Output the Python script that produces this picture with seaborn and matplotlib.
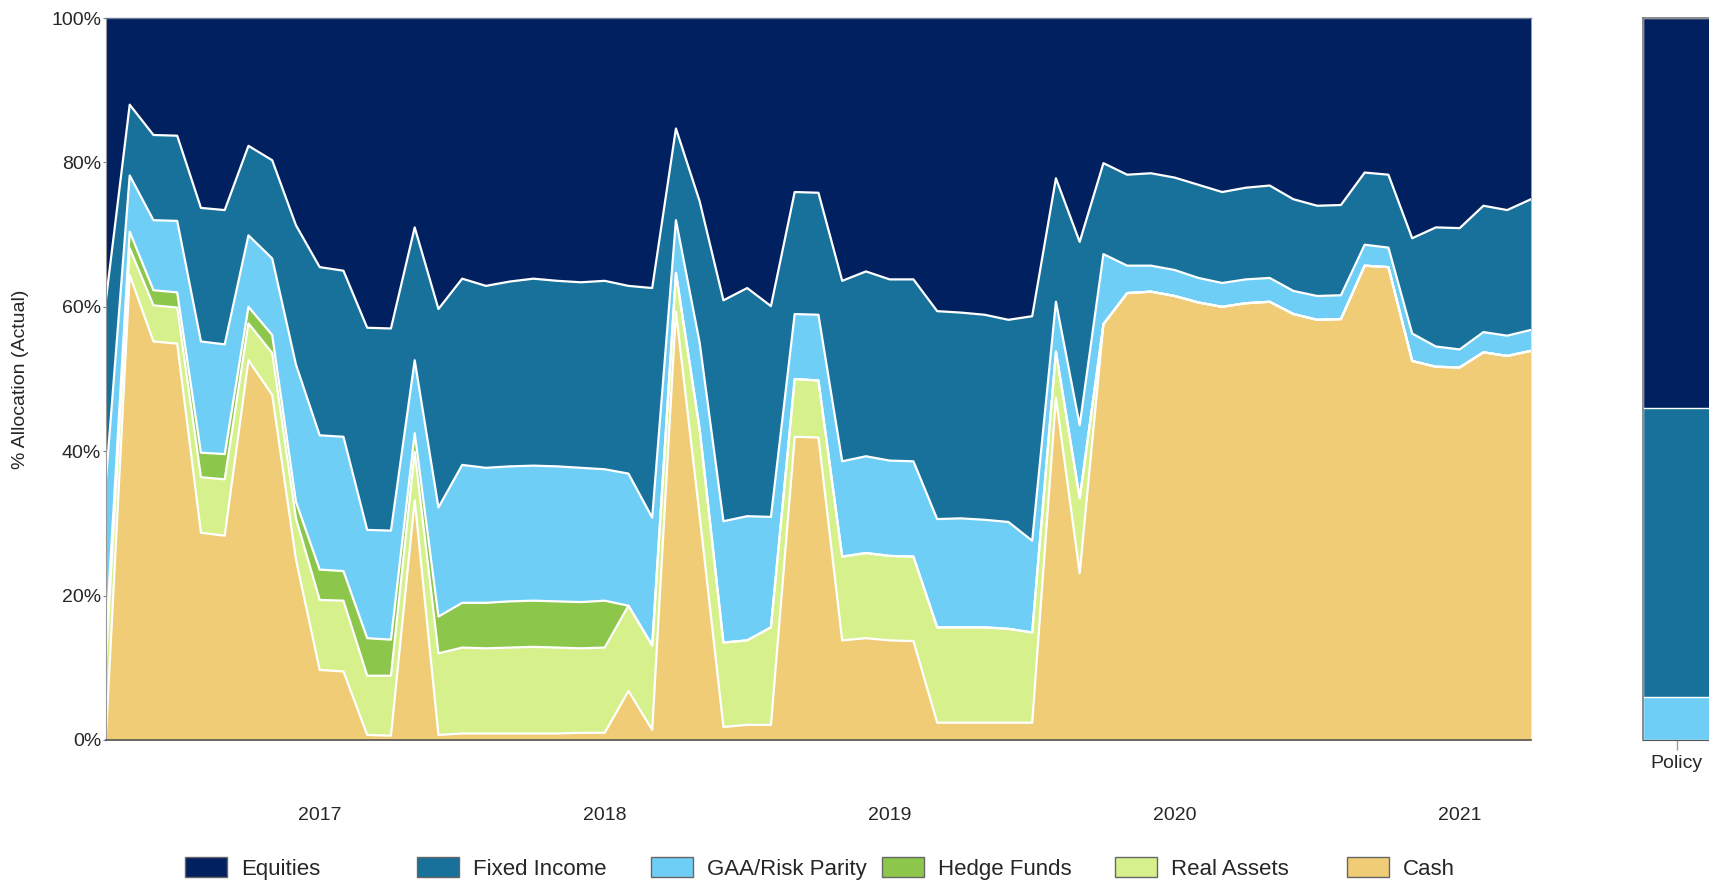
import numpy as np
import pandas as pd
import matplotlib
matplotlib.use("Agg")
from matplotlib import pyplot as plt
from matplotlib.patches import Patch
import seaborn as sns

# Actual allocation (%), month-end Mar-2016 .. Mar-2021
cash = [0.5, 64.4, 55.2, 54.9, 28.7, 28.3, 52.6, 47.8, 25.0, 9.7,
        9.5, 0.7, 0.6, 33.2, 0.7, 0.9, 0.9, 0.9, 0.9, 0.9,
        1.0, 1.0, 6.8, 1.4, 59.3, 31.0, 1.8, 2.1, 2.1, 42.0,
        41.9, 13.8, 14.1, 13.8, 13.7, 2.4, 2.4, 2.4, 2.4, 2.4,
        47.4, 23.1, 57.6, 61.9, 62.1, 61.5, 60.6, 60.0, 60.5, 60.7,
        59.0, 58.2, 58.3, 65.7, 65.5, 52.5, 51.7, 51.6, 53.7, 53.2,
        53.9]
real_assets = [10.5, 3.7, 5.0, 5.0, 7.7, 7.8, 5.1, 5.8, 5.7, 9.7,
               9.8, 8.2, 8.3, 6.7, 11.3, 11.9, 11.8, 11.9, 12.0, 11.9,
               11.7, 11.8, 11.8, 11.7, 5.4, 12.0, 11.7, 11.7, 13.5, 8.0,
               7.9, 11.6, 11.8, 11.7, 11.7, 13.2, 13.2, 13.2, 13.0, 12.5,
               6.4, 10.4, 0, 0, 0, 0, 0, 0, 0, 0,
               0, 0, 0, 0, 0, 0, 0, 0, 0, 0,
               0]
hedge_funds = [3.0, 2.3, 2.1, 2.1, 3.4, 3.5, 2.3, 2.5, 2.3, 4.2,
               4.1, 5.2, 5.0, 2.6, 5.1, 6.2, 6.3, 6.4, 6.4, 6.4,
               6.4, 6.5, 0, 0, 0, 0, 0, 0, 0, 0,
               0, 0, 0, 0, 0, 0, 0, 0, 0, 0,
               0, 0, 0, 0, 0, 0, 0, 0, 0, 0,
               0, 0, 0, 0, 0, 0, 0, 0, 0, 0,
               0]
gaa_risk_parity = [22.0, 7.8, 9.7, 9.9, 15.4, 15.2, 9.9, 10.6, 19.0, 18.6,
                   18.6, 15.0, 15.1, 10.1, 15.1, 19.1, 18.7, 18.7, 18.7, 18.7,
                   18.6, 18.2, 18.3, 17.7, 7.3, 12.0, 16.8, 17.2, 15.3, 9.0,
                   9.1, 13.2, 13.4, 13.2, 13.2, 15.0, 15.1, 14.9, 14.8, 12.7,
                   6.9, 10.1, 9.7, 3.8, 3.6, 3.6, 3.4, 3.3, 3.3, 3.3,
                   3.2, 3.3, 3.3, 2.9, 2.7, 3.8, 2.8, 2.5, 2.8, 2.8,
                   2.9]
fixed_income = [25.0, 9.8, 11.8, 11.8, 18.5, 18.6, 12.4, 13.6, 19.3, 23.3,
                23.0, 28.0, 28.0, 18.4, 27.5, 25.8, 25.2, 25.6, 25.9, 25.7,
                25.7, 26.1, 26.0, 31.8, 12.7, 19.6, 30.6, 31.6, 29.2, 16.9,
                16.9, 25.0, 25.6, 25.1, 25.2, 28.8, 28.5, 28.4, 28.0, 31.1,
                17.1, 25.4, 12.6, 12.6, 12.8, 12.8, 12.9, 12.6, 12.7, 12.8,
                12.7, 12.5, 12.5, 10.0, 10.1, 13.2, 16.5, 16.8, 17.5, 17.4,
                18.1]
equities = [39.0, 12.0, 16.2, 16.3, 26.3, 26.6, 17.7, 19.7, 28.7, 34.5,
            35.0, 42.9, 43.0, 29.0, 40.3, 36.1, 37.1, 36.5, 36.1, 36.4,
            36.6, 36.4, 37.1, 37.4, 15.3, 25.4, 39.1, 37.4, 39.9, 24.1,
            24.2, 36.4, 35.1, 36.2, 36.2, 40.6, 40.8, 41.1, 41.8, 41.3,
            22.2, 31.0, 20.1, 21.7, 21.5, 22.1, 23.1, 24.1, 23.5, 23.2,
            25.1, 26.0, 25.9, 21.4, 21.7, 30.5, 29.0, 29.1, 26.0, 26.6,
            25.1]

fiscal_years = ["2017", "2018", "2019", "2020", "2021"]

policy_classes = ["Equities", "Fixed Income", "GAA/Risk Parity"]
policy_weights = [54, 40, 6]

legend_order = ["Equities", "Fixed Income", "GAA/Risk Parity", "Hedge Funds", "Real Assets", "Cash"]
palette = {
    "Equities": "#012060",
    "Fixed Income": "#17719B",
    "GAA/Risk Parity": "#6ECEF5",
    "Hedge Funds": "#8CC64A",
    "Real Assets": "#D6F08C",
    "Cash": "#F0CC76",
}

sns.set_style("white")
plt.rcParams["font.family"] = ["Liberation Sans", "DejaVu Sans"]

df = pd.DataFrame({
    "Cash": cash,
    "Real Assets": real_assets,
    "Hedge Funds": hedge_funds,
    "GAA/Risk Parity": gaa_risk_parity,
    "Fixed Income": fixed_income,
    "Equities": equities,
})
df["month"] = range(len(df))
stack_order = ["Cash", "Real Assets", "Hedge Funds", "GAA/Risk Parity", "Fixed Income", "Equities"]

fig = plt.figure(figsize=(17.09, 8.84), dpi=100)
ax = fig.add_axes([0.0620, 0.1629, 0.8338, 0.8167])

ax.stackplot(df["month"], [df[c] for c in stack_order],
             colors=[palette[c] for c in stack_order], linewidth=0)
cum = df[stack_order].cumsum(axis=1)
for c in stack_order[:-1]:
    sns.lineplot(x=df["month"], y=cum[c], color="white", linewidth=1.6, ax=ax)

ax.set_xlim(0, len(df) - 1)
ax.set_ylim(0, 100)
ax.set_yticks(range(0, 101, 20))
ax.set_yticklabels([f"{v}%" for v in range(0, 101, 20)], fontsize=14)
ax.set_ylabel("% Allocation (Actual)", fontsize=14)
ax.yaxis.set_label_coords(-0.054, 0.5)
ax.set_xlabel("")

# fiscal year boundaries (long ticks) and quarters (short ticks)
major = [3, 15, 27, 39, 51]
minor = [m for m in range(0, len(df) - 1, 3) if m not in major]
minor_labels = [""] * len(minor)
for k, yr in enumerate(fiscal_years):
    minor_labels[minor.index(9 + 12 * k)] = yr
ax.set_xticks(major)
ax.set_xticklabels([""] * len(major))
ax.set_xticks(minor, minor=True)
ax.set_xticklabels(minor_labels, minor=True, fontsize=14)
ax.tick_params(axis="x", which="major", length=23, width=1.3, color="#444444", direction="out")
ax.tick_params(axis="x", which="minor", length=8.5, width=0.9, color="#777777", direction="out", pad=40)
ax.tick_params(axis="y", length=2, width=0.8, color="#6a7fa0", pad=1.5, left=True)

ax.spines["right"].set_visible(False)
ax.spines["top"].set_color("#6a7a90")
ax.spines["top"].set_linewidth(1.0)
ax.spines["left"].set_color("#999999")
ax.spines["bottom"].set_color("#555555")
ax.spines["bottom"].set_linewidth(1.2)

# policy target bar
pax = fig.add_axes([0.9611, 0.1629, 0.0400, 0.8167])
policy = pd.DataFrame({"cls": policy_classes, "weight": policy_weights})
policy["top"] = policy["weight"][::-1].cumsum()[::-1]
for _, row in policy.iterrows():
    sns.barplot(x=["Policy"], y=[row["top"]], color=palette[row["cls"]], width=1.0,
                edgecolor="white", linewidth=1.0, saturation=1, ax=pax)
pax.set_xlim(-0.5, 0.5)
pax.set_ylim(0, 100)
pax.set_yticks([])
pax.set_ylabel("")
pax.tick_params(axis="x", length=7, width=1, color="#999999", labelsize=14, pad=4, bottom=True)
pax.spines["right"].set_visible(False)
for side in ["left", "top"]:
    pax.spines[side].set_color("#777777")
    pax.spines[side].set_linewidth(1.2)
pax.spines["bottom"].set_color("#555555")

# legend, one slot per asset class
slots = [0.1083, 0.2440, 0.3809, 0.5161, 0.6524, 0.7882]
for name, x0 in zip(legend_order, slots):
    h = Patch(facecolor=palette[name], edgecolor="#666666", linewidth=1.0)
    fig.legend(handles=[h], labels=[name], loc="center left", bbox_to_anchor=(x0, 0.018),
               frameon=False, fontsize=16, handlelength=1.9, handleheight=1.05,
               handletextpad=0.6, borderpad=0, borderaxespad=0)

fig.savefig("out.png", dpi=100)
